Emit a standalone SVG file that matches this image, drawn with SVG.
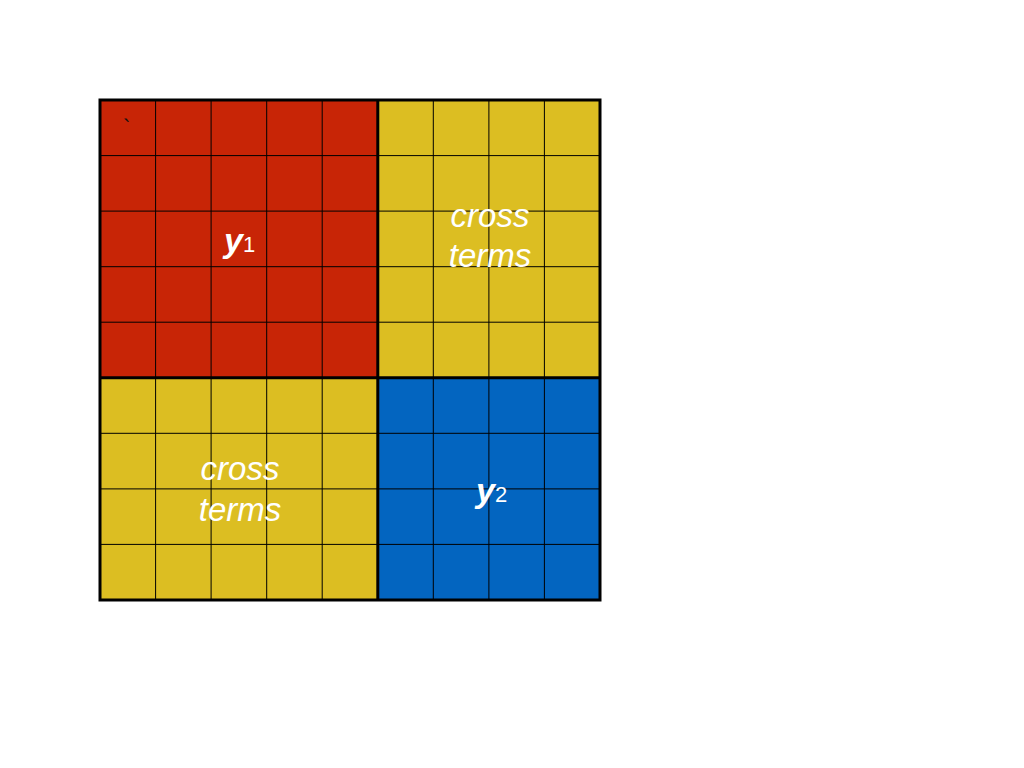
<svg xmlns="http://www.w3.org/2000/svg" width="1024" height="768" viewBox="0 0 1024 768">
<style>
.thin{stroke:#000;stroke-width:1;fill:none}
.thick{stroke:#000;stroke-width:3;fill:none}
.lbl{font-family:"Liberation Sans",Arial,sans-serif;font-style:italic;font-size:33px;fill:#fff;text-anchor:middle}
.var{font-family:"Liberation Sans",Arial,sans-serif;fill:#fff}
</style>
<rect width="1024" height="768" fill="#fff"/>
<g id="y1-block">
<rect x="100" y="100" width="277.8" height="277.8" fill="#C82506"/>
</g>
<g id="cross-top">
<rect x="377.8" y="100" width="222.2" height="277.8" fill="#DCBE22"/>
</g>
<g id="cross-bottom">
<rect x="100" y="377.8" width="277.8" height="222.2" fill="#DCBE22"/>
</g>
<g id="y2-block">
<rect x="377.8" y="377.8" width="222.2" height="222.2" fill="#0365C0"/>
</g>
<g id="grid">
<path class="thin" d="M155.6 100V600M211.1 100V600M266.7 100V600M322.2 100V600M433.3 100V600M488.9 100V600M544.4 100V600M100 155.6H600M100 211.1H600M100 266.7H600M100 322.2H600M100 433.3H600M100 488.9H600M100 544.4H600"/>
<path class="thick" d="M377.8 100V600M100 377.8H600"/>
<rect class="thick" x="100" y="100" width="500" height="500"/>
</g>
<g id="labels">
<text x="123" y="135" font-family="Liberation Sans,sans-serif" font-size="22" fill="#111">`</text>
<text class="var" x="224" y="252" font-size="34" font-weight="bold" font-style="italic">y<tspan font-size="22" font-weight="normal" font-style="normal">1</tspan></text>
<text class="lbl" x="490" y="227">cross</text>
<text class="lbl" x="490" y="267">terms</text>
<text class="lbl" x="240" y="480">cross</text>
<text class="lbl" x="240" y="521">terms</text>
<text class="var" x="476" y="502" font-size="34" font-weight="bold" font-style="italic">y<tspan font-size="22" font-weight="normal" font-style="normal">2</tspan></text>
</g>
</svg>
